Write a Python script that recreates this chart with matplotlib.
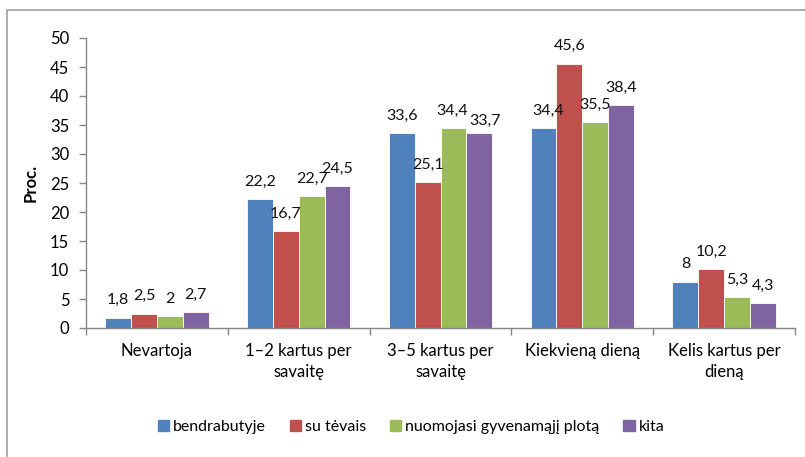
import numpy as np
import matplotlib
matplotlib.use("Agg")
import matplotlib.pyplot as plt
import matplotlib.patches as mpatches

categories = ["Nevartoja", "1–2 kartus per\nsavaitę", "3–5 kartus per\nsavaitę",
              "Kiekvieną dieną", "Kelis kartus per\ndieną"]
series_names = ["bendrabutyje", "su tėvais", "nuomojasi gyvenamąjį plotą", "kita"]
bendrabutyje = [1.8, 22.2, 33.6, 34.4, 8]
su_tevais = [2.5, 16.7, 25.1, 45.6, 10.2]
nuomojasi = [2, 22.7, 34.4, 35.5, 5.3]
kita = [2.7, 24.5, 33.7, 38.4, 4.3]
series = [bendrabutyje, su_tevais, nuomojasi, kita]
colors = ["#4F81BD", "#C0504D", "#9BBB59", "#8064A2"]

# small label nudges (points) where neighbouring labels would collide
nudge = {(3, 2): (4, -4), (2, 2): (-1, 0), (0, 3): (3, 0)}

plt.rcParams["font.family"] = ["Lato", "DejaVu Sans"]
plt.rcParams["font.size"] = 12

fig = plt.figure(figsize=(8.05, 4.57), dpi=100)
ax = fig.add_axes([86 / 805, 1 - 328 / 457, (795 - 86) / 805, (328 - 38) / 457])

# outer chart border
fig.patches.append(mpatches.Rectangle((7 / 805, -0.05), 1.2, 1 - 10 / 457 + 0.05,
                                      transform=fig.transFigure, fill=False,
                                      edgecolor="#A0A0A0", lw=1.2))

x = np.arange(len(categories))
w = 0.182
for i, (vals, c) in enumerate(zip(series, colors)):
    pos = x + (i - 1.5) * w
    ax.bar(pos, vals, width=w, color=c, edgecolor="white", lw=0.6,
           label=series_names[i], zorder=2)
    for j, (p, v) in enumerate(zip(pos, vals)):
        dx, dy = nudge.get((i, j), (0, 0))
        ax.annotate(f"{v:g}".replace(".", ","), (p, v), xytext=(dx, 7.5 + dy),
                    textcoords="offset points", ha="center", va="bottom",
                    fontsize=11.5, color="#111")

ax.set_xlim(-0.5, len(categories) - 0.5)
ax.set_ylim(0, 50)
ax.set_yticks(range(0, 51, 5))
ax.set_xticks(x)
ax.set_xticklabels(categories, fontsize=12, linespacing=1.4)
ax.set_xticks(np.arange(-0.5, len(categories)), minor=True)
ax.tick_params(axis="x", which="major", length=0, pad=11)
ax.tick_params(axis="x", which="minor", length=5, color="#868686", width=1)
ax.tick_params(axis="y", length=5, color="#868686", width=1, labelsize=12, pad=7)
for s in ["top", "right"]:
    ax.spines[s].set_visible(False)
for s in ["left", "bottom"]:
    ax.spines[s].set_color("#868686")
    ax.spines[s].set_linewidth(1)
ax.set_ylabel("Proc.", fontweight="bold", fontsize=12, labelpad=8)

handles = [mpatches.Patch(color=c, label=n) for c, n in zip(colors, series_names)]
fig.legend(handles=handles, loc="center", bbox_to_anchor=(411 / 805, 1 - 427 / 457),
           ncol=4, frameon=False, fontsize=11.5, handlelength=0.7, handleheight=0.7,
           handletextpad=0.25, columnspacing=1.5)

fig.savefig("out.png", dpi=100, facecolor="white")
